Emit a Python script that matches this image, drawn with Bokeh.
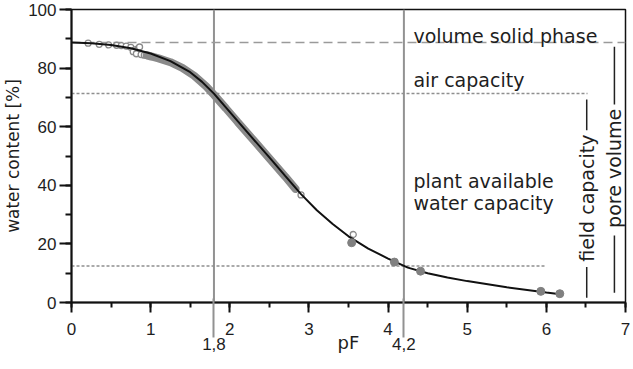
from math import pi
from bokeh.plotting import figure
from bokeh.models import Range1d, LinearAxis, SingleIntervalTicker, FixedTicker
from bokeh.core.properties import value
from bokeh.embed import file_html
from bokeh.resources import INLINE

# ---------------- data ----------------
curve_pf = [0.0, 0.25, 0.5, 0.75, 1.0, 1.25, 1.5, 1.65, 1.8, 1.95, 2.1, 2.3, 2.5, 2.7,
            2.9, 3.1, 3.3, 3.5, 3.75, 4.0, 4.25, 4.5, 4.75, 5.0, 5.5, 6.0, 6.2]
curve_wc = [88.7, 88.5, 87.9, 86.8, 85.0, 82.4, 78.6, 75.3, 71.3, 66.6, 61.9, 55.7, 49.5, 43.2,
            37.0, 31.5, 26.8, 22.6, 18.4, 15.0, 11.9, 10.0, 8.5, 7.3, 5.2, 3.4, 2.7]

band_pf = [0.95, 1.1, 1.25, 1.4, 1.55, 1.7, 1.8, 1.95, 2.1, 2.3, 2.5, 2.7, 2.83]
band_wc = [84.4, 83.3, 82.0, 80.1, 77.4, 73.8, 70.9, 66.3, 61.6, 55.4, 49.2, 43.0, 38.8]

open_pf = [0.21, 0.35, 0.47, 0.57, 0.63, 0.69, 0.75, 0.80, 0.84, 0.86, 0.78, 0.82, 0.88,
           0.92, 0.96, 1.0, 2.9, 3.56]
open_wc = [88.5, 88.1, 87.9, 87.8, 87.7, 87.5, 87.1, 86.2, 86.6, 87.2, 85.6, 84.9, 84.6,
           84.4, 84.2, 83.9, 36.7, 23.2]

filled_pf = [3.54, 4.08, 4.41, 5.93, 6.17]
filled_wc = [20.4, 13.8, 10.7, 3.8, 3.0]

level_names = ["solid phase", "air capacity limit", "wilting point"]
level_values = [88.7, 71.3, 12.5]
level_ends = [7.0, 6.52, 6.0]

pf_marks = [1.8, 4.2]
pf_mark_labels = ["1,8", "4,2"]

zone_text = ["volume solid phase", "air capacity", "plant available", "water capacity"]
zone_x = [4.32, 4.32, 4.32, 4.32]
zone_y = [91.0, 76.0, 41.4, 33.8]

bracket_text = ["field capacity", "pore volume"]
bracket_text_x = [6.51, 6.86]
bracket_text_y = [35.6, 45.8]
bracket_x = [6.51, 6.51, 6.86, 6.86]
bracket_y0 = [1.6, 58.8, 3.3, 67.6]
bracket_y1 = [12.1, 69.3, 22.9, 87.3]

X_MIN, X_MAX = 0, 7
Y_MIN, Y_MAX = 0, 100

# ---------------- figure ----------------
TXT = "#1e1e1e"
AX = "#111111"
MARK = "#929292"
p = figure(frame_width=554, frame_height=293,
           x_range=Range1d(X_MIN, X_MAX), y_range=Range1d(Y_MIN, Y_MAX),
           output_backend="svg", toolbar_location=None,
           min_border_top=9, min_border_right=5, min_border_left=0, min_border_bottom=0)
p.grid.visible = False
p.background_fill_color = "white"
p.border_fill_color = "white"
p.outline_line_color = AX
p.outline_line_width = 1.5

# main pF axis
xa = p.xaxis[0]
xa.ticker = SingleIntervalTicker(interval=1, num_minor_ticks=2)
xa.major_tick_in = 0
xa.major_tick_out = 10
xa.minor_tick_in = 0
xa.minor_tick_out = 5
xa.axis_line_width = 2
xa.axis_line_color = AX
xa.major_tick_line_width = 2
xa.minor_tick_line_width = 2
xa.major_tick_line_color = AX
xa.minor_tick_line_color = AX
xa.major_label_text_font = "Liberation Sans"
xa.major_label_text_font_size = "17px"
xa.major_label_text_color = TXT
xa.major_label_standoff = 10

# second row: the two pF marks (their ticks carry the marker lines on below the axis)
xa2 = LinearAxis(ticker=FixedTicker(ticks=pf_marks),
                 major_label_overrides=dict(zip(pf_marks, pf_mark_labels)),
                 axis_line_color=None, minor_tick_line_color=None,
                 major_tick_line_color=MARK, major_tick_line_width=2,
                 major_tick_in=39, major_tick_out=0, major_label_standoff=0,
                 major_label_text_font="Liberation Sans", major_label_text_font_size="17px",
                 major_label_text_color=TXT,
                 axis_label="pF", axis_label_standoff=-21,
                 axis_label_text_font="DejaVu Sans", axis_label_text_font_size="18px",
                 axis_label_text_font_style="normal", axis_label_text_color=TXT)
p.add_layout(xa2, "below")

ya = p.yaxis[0]
ya.ticker = SingleIntervalTicker(interval=20, num_minor_ticks=2)
ya.major_tick_in = 0
ya.major_tick_out = 12
ya.minor_tick_in = 0
ya.minor_tick_out = 6
ya.axis_line_width = 2
ya.axis_line_color = AX
ya.major_tick_line_width = 2
ya.minor_tick_line_width = 2
ya.major_tick_line_color = AX
ya.minor_tick_line_color = AX
ya.major_label_text_font = "Liberation Sans"
ya.major_label_text_font_size = "17px"
ya.major_label_text_color = TXT
ya.major_label_standoff = 3
ya.axis_label = "water content [%]"
ya.axis_label_text_font = "DejaVu Sans"
ya.axis_label_text_font_size = "17px"
ya.axis_label_text_font_style = "normal"
ya.axis_label_text_color = TXT
ya.axis_label_standoff = 2

# vertical pF markers inside the frame
p.segment(x0=pf_marks, y0=[Y_MAX] * 2, x1=pf_marks, y1=[Y_MIN] * 2,
          line_color=MARK, line_width=2)

# horizontal levels
p.segment(x0=[0], y0=level_values[:1], x1=level_ends[:1], y1=level_values[:1],
          line_color="#9a9a9a", line_width=1.5, line_dash="9 5")
p.segment(x0=[0, 0], y0=level_values[1:], x1=level_ends[1:], y1=level_values[1:],
          line_color="#8f8f8f", line_width=1.5, line_dash="3 2")

# measured data
p.scatter(open_pf, open_wc, size=6, fill_color="white", line_color="#8a8a8a", line_width=1.3)
p.line(band_pf, band_wc, line_width=8, line_color="#8a8a8a", line_cap="round")
p.line(curve_pf, curve_wc, line_width=2, line_color=AX)
p.scatter(filled_pf, filled_wc, size=8, fill_color="#808080", line_color="#808080")

# bracket lines
p.segment(x0=bracket_x, y0=bracket_y0, x1=bracket_x, y1=bracket_y1,
          line_color="#222222", line_width=1.5)

# zone labels
p.text(x=zone_x, y=zone_y, text=zone_text, text_font=value("DejaVu Sans"),
       text_font_size=value("19px"), text_color=TXT, text_baseline="alphabetic",
       text_align="left")
p.text(x=bracket_text_x, y=bracket_text_y, text=bracket_text, angle=pi / 2,
       text_font=value("DejaVu Sans"), text_font_size=value("19px"), text_color=TXT,
       text_baseline="alphabetic", text_align="center")

open("out.html", "w").write(file_html(p, INLINE))
